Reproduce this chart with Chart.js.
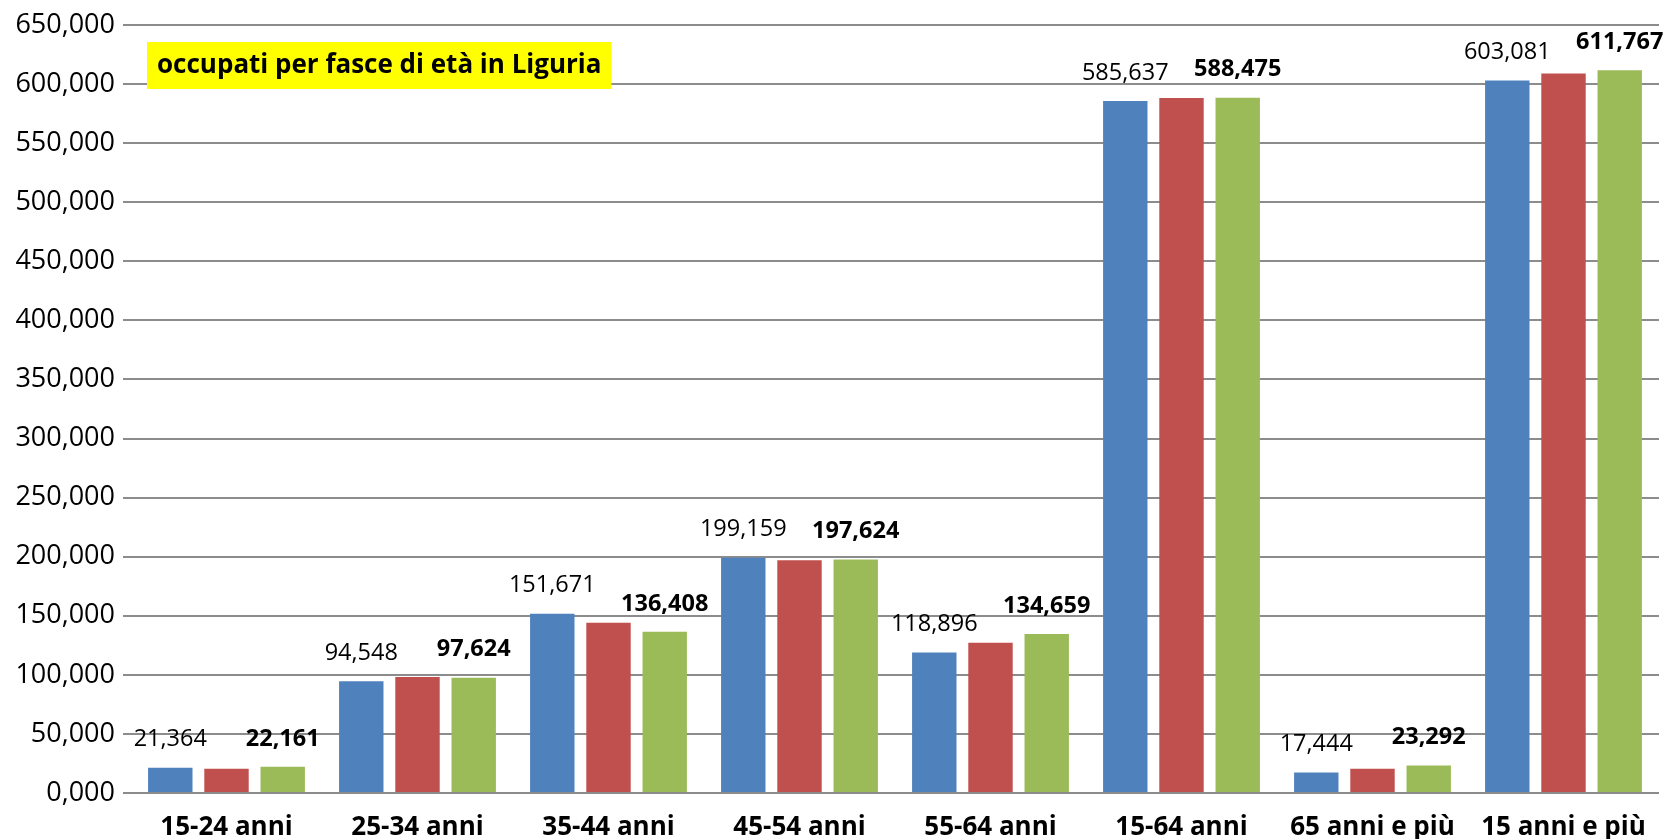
<!DOCTYPE html>
<html>
<head>
<meta charset="utf-8">
<script src="https://cdn.jsdelivr.net/npm/chart.js@4.4.1/dist/chart.umd.min.js"></script>
<style>
  html, body { margin: 0; padding: 0; background: #fff; }
  #wrap { width: 1663px; height: 839px; }
</style>
</head>
<body>
<div id="wrap"><canvas id="chart" width="1663" height="839"></canvas></div>
<script>
const categories = ['15-24 anni', '25-34 anni', '35-44 anni', '45-54 anni', '55-64 anni', '15-64 anni', '65 anni e più', '15 anni e più'];
const serieBlu = [21364, 94548, 151671, 199159, 118896, 585637, 17444, 603081];
const serieRossa = [20500, 98100, 144100, 197000, 127100, 588300, 20500, 609000];
const serieVerde = [22161, 97624, 136408, 197624, 134659, 588475, 23292, 611767];
const yTicks = [0, 50000, 100000, 150000, 200000, 250000, 300000, 350000, 400000, 450000, 500000, 550000, 600000, 650000];
const titolo = 'occupati per fasce di età in Liguria';

const FONT = '"Open Sans", "Noto Sans", sans-serif';
const GRID = '#8c8c8c';

// 50000 -> "50,000", 0 -> "0,000"
const fmtTick = (v) => Math.floor(v / 1000) + ',' + String(v % 1000).padStart(3, '0');
const fmtVal = (v) => Intl.NumberFormat('en-US').format(v);

// etichette sopra le barre: serie blu normale, serie verde in grassetto
const valueLabels = {
  id: 'valueLabels',
  afterDatasetsDraw(chart) {
    const ctx = chart.ctx;
    ctx.save();
    ctx.textAlign = 'center';
    ctx.textBaseline = 'middle';
    ctx.fillStyle = '#000';
    [[0, 'normal'], [2, 'bold']].forEach(([di, weight]) => {
      const meta = chart.getDatasetMeta(di);
      ctx.font = weight + ' 23.5px ' + FONT;
      meta.data.forEach((bar, i) => {
        ctx.fillText(fmtVal(chart.data.datasets[di].data[i]), bar.x, bar.y - 28);
      });
    });
    ctx.restore();
  }
};

// riquadro giallo del titolo
const titleBox = {
  id: 'titleBox',
  afterDatasetsDraw(chart) {
    const ctx = chart.ctx;
    const a = chart.chartArea;
    ctx.save();
    ctx.font = 'bold 26px ' + FONT;
    const w = ctx.measureText(titolo).width + 20;
    const x = a.left + 16, y = a.top + 17;
    ctx.fillStyle = '#ffff00';
    ctx.fillRect(x, y, w, 47);
    ctx.fillStyle = '#000';
    ctx.textBaseline = 'middle';
    ctx.fillText(titolo, x + 10, y + 24);
    ctx.restore();
  }
};

new Chart(document.getElementById('chart'), {
  type: 'bar',
  data: {
    labels: categories,
    datasets: [
      { label: 'blu', data: serieBlu, backgroundColor: '#4f81bd' },
      { label: 'rossa', data: serieRossa, backgroundColor: '#c0504d' },
      { label: 'verde', data: serieVerde, backgroundColor: '#9bbb59' }
    ]
  },
  options: {
    responsive: false,
    animation: false,
    devicePixelRatio: 1,
    layout: { padding: { top: 25, right: 4, left: 0, bottom: 0 } },
    datasets: { bar: { categoryPercentage: 0.883, barPercentage: 0.79 } },
    plugins: { legend: { display: false }, tooltip: { enabled: false } },
    scales: {
      x: {
        grid: { display: false },
        border: { display: false },
        ticks: { color: '#000', font: { family: FONT, size: 26, weight: 'bold' }, padding: 11, maxRotation: 0, autoSkip: false },
        afterFit: (s) => { s.height = 46; }
      },
      y: {
        min: 0, max: 650000,
        afterBuildTicks: (s) => { s.ticks = yTicks.map(v => ({ value: v })); },
        grid: { color: GRID, lineWidth: 2, drawTicks: true, tickLength: 8 },
        border: { display: false },
        ticks: { color: '#000', font: { family: FONT, size: 27 }, padding: 8, callback: fmtTick },
        afterFit: (s) => { s.width = 131; }
      }
    }
  },
  plugins: [valueLabels, titleBox]
});
</script>
</body>
</html>
